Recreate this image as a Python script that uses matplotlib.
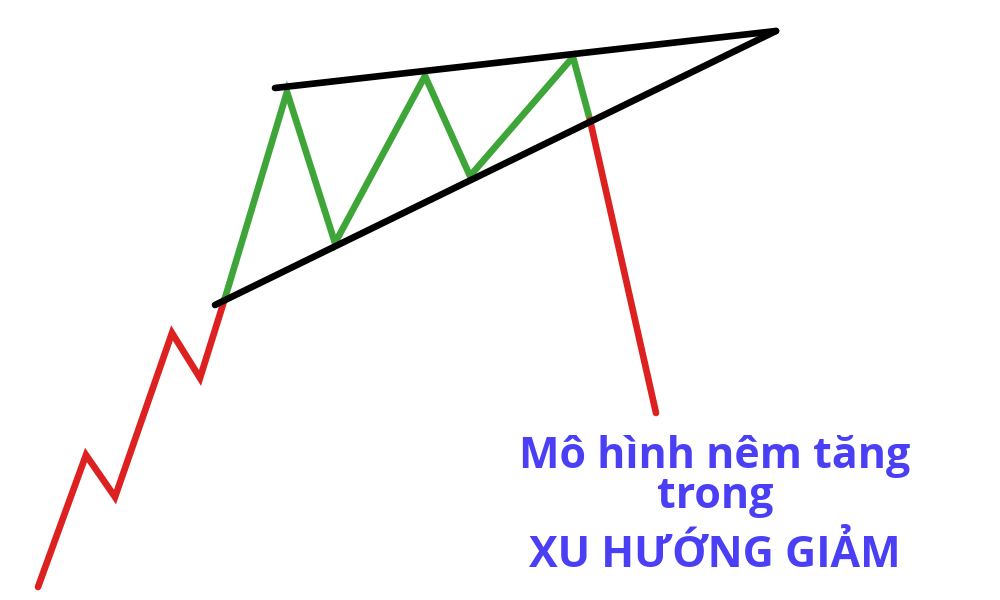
import matplotlib
matplotlib.use('Agg')
import matplotlib.pyplot as plt

# điểm trên hình (x, y theo pixel, y hướng xuống)
red_up_x = [38, 86, 115, 172, 200, 225]
red_up_y = [587, 455, 497, 333, 378, 298]

green_x = [225, 287, 335, 425, 470, 573, 590]
green_y = [298, 92, 243, 76, 176, 57, 120]

red_down_x = [590, 656]
red_down_y = [120, 413]

top_x = [275, 776]
top_y = [88, 31]
bottom_x = [215, 776]
bottom_y = [305, 31]

labels = ['Mô hình nêm tăng', 'trong', 'XU HƯỚNG GIẢM']
label_y = [468, 508, 567]

fig = plt.figure(figsize=(10, 6), dpi=100)
ax = fig.add_axes([0, 0, 1, 1])
ax.set_xlim(0, 1000)
ax.set_ylim(600, 0)
ax.axis('off')

lw = 4.8
ax.plot(top_x, top_y, color='black', lw=lw, solid_capstyle='round', zorder=3)
ax.plot(bottom_x, bottom_y, color='black', lw=lw, solid_capstyle='round', zorder=3)
ax.plot(red_up_x, red_up_y, color='#dd2020', lw=lw, solid_capstyle='round',
        solid_joinstyle='miter', zorder=2)
ax.plot(green_x, green_y, color='#3ea638', lw=lw, solid_capstyle='round',
        solid_joinstyle='miter', zorder=2)
ax.plot(red_down_x, red_down_y, color='#dd2020', lw=lw, solid_capstyle='round', zorder=2)

for s, y in zip(labels, label_y):
    ax.text(715, y, s, ha='center', va='baseline', fontsize=31,
            fontweight='bold', color='#4a3ff5', family=['Open Sans', 'DejaVu Sans'])

fig.savefig('out.png', dpi=100)
